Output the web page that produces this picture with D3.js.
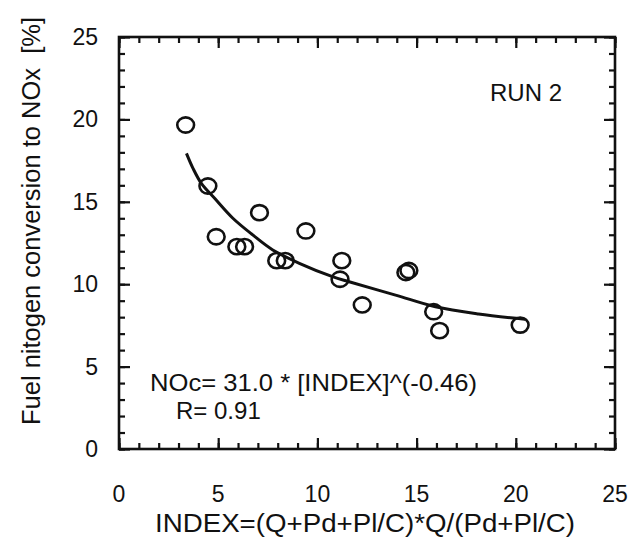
<!DOCTYPE html>
<html><head><meta charset="utf-8">
<script src="https://cdn.jsdelivr.net/npm/d3@7"></script>
<style>
html,body{margin:0;padding:0;background:#fff;}
svg{display:block;}
text{font-family:"Liberation Sans",Arial,Helvetica,sans-serif;fill:#111;white-space:pre;}
</style></head>
<body>
<script>
// ---- data ----
const indexValues = [3.36, 4.48, 4.90, 5.94, 6.33, 7.08, 7.95, 8.38, 9.42, 11.23, 11.14, 12.26, 14.46, 14.61, 15.86, 16.16, 20.22];
const conversionValues = [19.66, 15.96, 12.88, 12.28, 12.28, 14.34, 11.43, 11.43, 13.23, 11.43, 10.30, 8.74, 10.71, 10.83, 8.33, 7.18, 7.52];
const fitIndex = [3.40, 3.73, 4.15, 4.82, 5.74, 6.74, 7.75, 9.09, 10.76, 11.6, 13.94, 15.95, 18.12, 20.47];
const fitConversion = [17.94, 17.03, 16.12, 15.21, 14.0, 12.99, 12.08, 11.27, 10.46, 10.15, 9.34, 8.63, 8.19, 7.87];
const xTicks = [0, 5, 10, 15, 20, 25];
const yTicks = [0, 5, 10, 15, 20, 25];
const xTitle = "INDEX=(Q+Pd+Pl/C)*Q/(Pd+Pl/C)";
const yTitle = "Fuel nitogen conversion to NOx  [%]";
const runLabel = "RUN 2";
const eqLabel = "NOc= 31.0 * [INDEX]^(-0.46)";
const rLabel = "R= 0.91";

// ---- layout ----
const W = 632, H = 541;
const L = 119, R = 615, T = 37, B = 449;
const svg = d3.select("body").append("svg").attr("width", W).attr("height", H);

const x = d3.scaleLinear().domain([0, 25]).range([L, R]);
const y = d3.scaleLinear().domain([0, 25]).range([B, T]);

const minorX = d3.range(0, 26, 1), minorY = d3.range(0, 26, 1);
const tickStroke = "#111";

const gB = svg.append("g").attr("transform", `translate(0,${B})`);
gB.call(d3.axisBottom(x).tickValues(minorX).tickSize(-6).tickFormat(""));
gB.append("g").call(d3.axisBottom(x).tickValues(xTicks).tickSize(-11).tickFormat(""));
const gT = svg.append("g").attr("transform", `translate(0,${T})`);
gT.call(d3.axisTop(x).tickValues(minorX).tickSize(-6).tickFormat(""));
gT.append("g").call(d3.axisTop(x).tickValues(xTicks).tickSize(-11).tickFormat(""));
const gL = svg.append("g").attr("transform", `translate(${L},0)`);
gL.call(d3.axisLeft(y).tickValues(minorY).tickSize(-6).tickFormat(""));
gL.append("g").call(d3.axisLeft(y).tickValues(yTicks).tickSize(-11).tickFormat(""));
const gR = svg.append("g").attr("transform", `translate(${R},0)`);
gR.call(d3.axisRight(y).tickValues(minorY).tickSize(-6).tickFormat(""));
gR.append("g").call(d3.axisRight(y).tickValues(yTicks).tickSize(-11).tickFormat(""));

svg.selectAll(".domain").remove();
svg.selectAll(".tick line").attr("stroke", tickStroke).attr("stroke-width", 2.2);

svg.append("rect").attr("x", L).attr("y", T).attr("width", R - L).attr("height", B - T)
  .attr("fill", "none").attr("stroke", "#111").attr("stroke-width", 2.6);

// tick labels
svg.append("g").selectAll("text").data(xTicks).join("text")
  .attr("x", d => x(d)).attr("y", B + 53).attr("text-anchor", "middle")
  .attr("font-size", 23).text(d => d);
svg.append("g").selectAll("text").data(yTicks).join("text")
  .attr("x", L - 21).attr("y", d => y(d) + 8).attr("text-anchor", "end")
  .attr("font-size", 23).text(d => d);

// axis titles
svg.append("text").attr("x", 155).attr("y", 532)
  .attr("font-size", 25).attr("textLength", 420).attr("lengthAdjust", "spacingAndGlyphs")
  .text(xTitle);
svg.append("text").attr("transform", `translate(40,425) rotate(-90)`)
  .attr("font-size", 26).attr("textLength", 408).attr("lengthAdjust", "spacingAndGlyphs")
  .text(yTitle);

// fit curve
const pts = fitIndex.map((v, i) => [v, fitConversion[i]]);
svg.append("path").datum(pts)
  .attr("d", d3.line().x(d => x(d[0])).y(d => y(d[1])).curve(d3.curveCatmullRom))
  .attr("fill", "none").attr("stroke", "#111").attr("stroke-width", 3);

// data points
const data = indexValues.map((v, i) => [v, conversionValues[i]]);
svg.append("g").selectAll("ellipse").data(data).join("ellipse")
  .attr("cx", d => x(d[0])).attr("cy", d => y(d[1]))
  .attr("rx", 8.4).attr("ry", 7.6)
  .attr("fill", "none").attr("stroke", "#111").attr("stroke-width", 2.6);

// annotations
svg.append("text").attr("x", 490).attr("y", y(21.1)).attr("font-size", 24)
  .attr("textLength", 72).attr("lengthAdjust", "spacingAndGlyphs")
  .text(runLabel);
svg.append("text").attr("x", 150).attr("y", 391).attr("font-size", 24)
  .attr("textLength", 327).attr("lengthAdjust", "spacingAndGlyphs")
  .text(eqLabel);
svg.append("text").attr("x", 176).attr("y", 419).attr("font-size", 24)
  .text(rLabel);
</script>
</body></html>
